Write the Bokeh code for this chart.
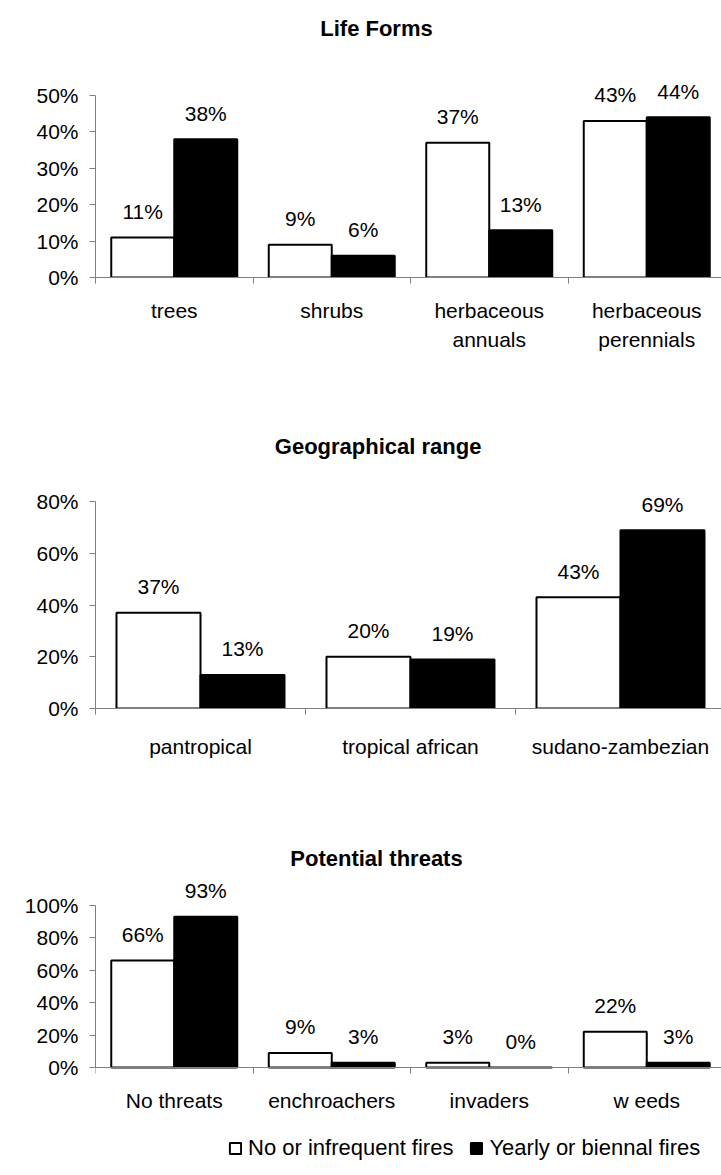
import numpy as np
from bokeh.plotting import figure
from bokeh.models import (ColumnDataSource, Range1d, FixedTicker, PrintfTickFormatter,
                          LabelSet, Label, Legend, LegendItem)
from bokeh.core.properties import value
from bokeh.layouts import column
from bokeh.embed import file_html
from bokeh.resources import INLINE

FONT = "Liberation Sans"

series_names = ["No or infrequent fires", "Yearly or biennal fires"]

life_title = "Life Forms"
life_cats = ["trees", "shrubs", "herbaceous\nannuals", "herbaceous\nperennials"]
life_nofire = [11, 9, 37, 43]
life_yearly = [38, 6, 13, 44]
life_yticks = [0, 10, 20, 30, 40, 50]

geo_title = "Geographical range"
geo_cats = ["pantropical", "tropical african", "sudano-zambezian"]
geo_nofire = [37, 20, 43]
geo_yearly = [13, 19, 69]
geo_yticks = [0, 20, 40, 60, 80]

threat_title = "Potential threats"
threat_cats = ["No threats", "enchroachers", "invaders", "w eeds"]
threat_nofire = [66, 9, 3, 22]
threat_yearly = [93, 3, 0, 3]
threat_yticks = [0, 20, 40, 60, 80, 100]

W = 721
GRAY = "#808080"
TXT = "21px"


def panel(title, cats, a, b, yticks, left, cat_w, ppu, frame_h, bottom, title_dy,
          standoff, fixed_axis=False):
    n = len(cats)
    x_end = (W - left) / cat_w
    if fixed_axis:
        # x axis drawn at y = 0 inside a frame that reaches the bottom of the figure
        yr = Range1d(-bottom / ppu, frame_h / ppu)
        mb = 0
    else:
        yr = Range1d(0, frame_h / ppu)
        mb = bottom
    p = figure(width=W, height=frame_h + bottom,
               x_range=Range1d(0, x_end), y_range=yr,
               output_backend="svg", toolbar_location=None,
               min_border_left=left, min_border_right=0,
               min_border_top=0, min_border_bottom=mb)
    p.outline_line_color = None
    p.xgrid.visible = False
    p.ygrid.visible = False

    idx = np.arange(n)
    src = ColumnDataSource(dict(
        xa=idx + 0.3, xb=idx + 0.7, a=a, b=b,
        la=[f"{v}%" for v in a], lb=[f"{v}%" for v in b]))
    ra = p.vbar(x="xa", top="a", width=0.4, source=src, fill_color="white",
                line_color="black", line_width=2)
    rb = p.vbar(x="xb", top="b", width=0.4, source=src, fill_color="black",
                line_color="black", line_width=2)

    for xcol, tcol, ycol in (("xa", "la", "a"), ("xb", "lb", "b")):
        p.add_layout(LabelSet(x=xcol, y=ycol, text=tcol, source=src, y_offset=26,
                              text_align="center", text_baseline="middle",
                              text_font=value(FONT), text_font_size=value(TXT),
                              text_color="black"))

    xa = p.xaxis[0]
    if fixed_axis:
        xa.fixed_location = 0
    xa.ticker = FixedTicker(ticks=[i + 0.5 for i in range(n)],
                            minor_ticks=list(range(n + 1)))
    xa.major_label_overrides = {i + 0.5: c for i, c in enumerate(cats)}
    xa.major_tick_out = 0
    xa.major_tick_in = 0
    xa.minor_tick_out = 6
    xa.minor_tick_in = 0
    xa.minor_tick_line_color = GRAY
    xa.axis_line_color = GRAY
    xa.major_label_standoff = standoff
    xa.major_label_text_font = FONT
    xa.major_label_text_font_size = TXT
    xa.major_label_text_color = "black"
    xa.major_label_text_line_height = 1.3

    ya = p.yaxis[0]
    ya.ticker = FixedTicker(ticks=yticks)
    ya.formatter = PrintfTickFormatter(format="%d%%")
    ya.bounds = (0, max(yticks))
    ya.major_tick_out = 6
    ya.major_tick_in = 0
    ya.minor_tick_out = 0
    ya.minor_tick_in = 0
    ya.major_tick_line_color = GRAY
    ya.axis_line_color = GRAY
    ya.major_label_standoff = 11
    ya.major_label_text_font = FONT
    ya.major_label_text_font_size = TXT
    ya.major_label_text_color = "black"

    # title, centred over the whole chart (page x ~ 376)
    p.add_layout(Label(x=(376 - left) / cat_w, y=title_dy / ppu, text=title,
                       text_align="center", text_baseline="middle",
                       text_font=FONT, text_font_size="22px",
                       text_font_style="bold", text_color="black"))
    return p, ra, rb


p1, _, _ = panel(life_title, life_cats, life_nofire, life_yearly, life_yticks,
                 left=95, cat_w=157.5, ppu=3.64, frame_h=277, bottom=108, title_dy=249,
                 standoff=15)
p2, _, _ = panel(geo_title, geo_cats, geo_nofire, geo_yearly, geo_yticks,
                 left=92, cat_w=211, ppu=2.625, frame_h=328, bottom=47, title_dy=266,
                 standoff=20)
p3, r3a, r3b = panel(threat_title, threat_cats, threat_nofire, threat_yearly, threat_yticks,
                     left=95, cat_w=157.5, ppu=1.62, frame_h=307, bottom=108, title_dy=209,
                     standoff=15, fixed_axis=True)

legend = Legend(items=[LegendItem(label=series_names[0], renderers=[r3a]),
                       LegendItem(label=series_names[1], renderers=[r3b])],
                orientation="horizontal", location=(133, 14),
                border_line_color=None, background_fill_alpha=0,
                label_text_font=FONT, label_text_font_size="22px",
                label_text_color="black",
                glyph_width=14, glyph_height=14, label_standoff=6,
                spacing=16, padding=0, margin=0)
p3.add_layout(legend)

layout = column(p1, p2, p3, spacing=0)
open("out.html", "w").write(file_html(layout, INLINE))
